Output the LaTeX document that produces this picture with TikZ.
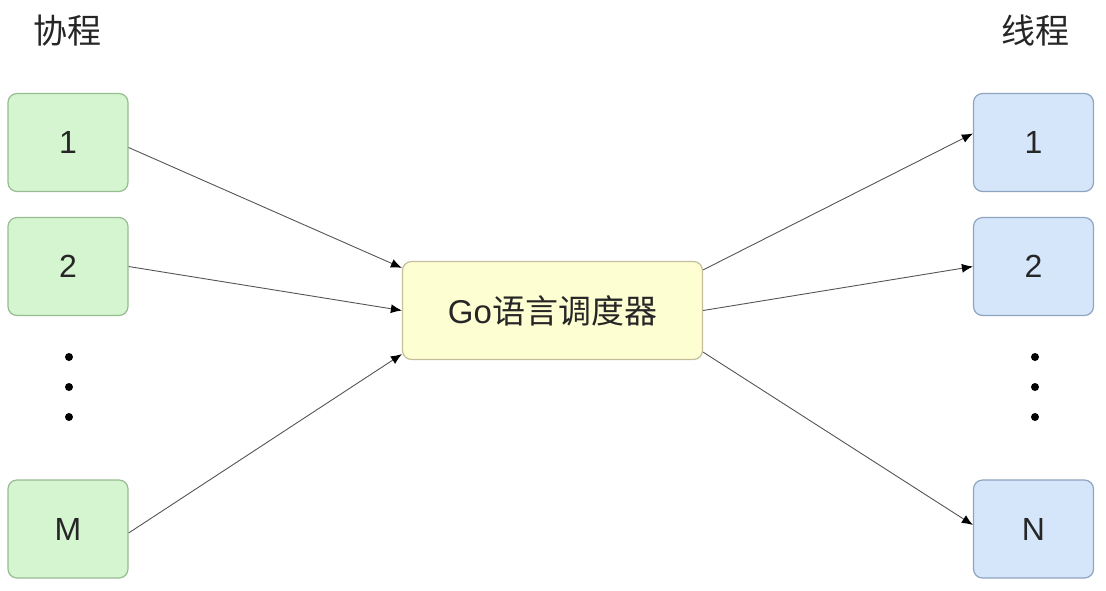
\documentclass[tikz,border=0pt]{standalone}
\usepackage{fontspec}
\setmainfont{Liberation Sans}
\newfontfamily\cjk{Noto Sans CJK SC}
\usetikzlibrary{arrows.meta}
\definecolor{cofill}{HTML}{D5F5D0}
\definecolor{codraw}{HTML}{98BC92}
\definecolor{thfill}{HTML}{D5E6FA}
\definecolor{thdraw}{HTML}{8EA4BF}
\definecolor{scfill}{HTML}{FEFED3}
\definecolor{scdraw}{HTML}{C4BF9A}
\definecolor{linkgray}{HTML}{555555}
\definecolor{txtgray}{HTML}{262626}
\tikzset{
  box/.style={rounded corners=9pt, line width=1.2pt, minimum width=120pt,
    minimum height=98pt, text=txtgray, font=\fontsize{32}{38}\selectfont},
  cobox/.style={box, fill=cofill, draw=codraw},
  thbox/.style={box, fill=thfill, draw=thdraw},
  schedbox/.style={box, fill=scfill, draw=scdraw, minimum width=300pt,
    font=\fontsize{33}{40}\selectfont},
  link/.style={draw=linkgray, line width=0.9pt, -{Latex[length=11pt,width=9pt,black]}},
  title/.style={font=\cjk\fontsize{34}{40}\selectfont, text=black!85},
  vdot/.style={circle, fill=black, inner sep=0pt, minimum size=8pt}
}
\begin{document}
\begin{tikzpicture}[x=1pt,y=-1pt]
    \useasboundingbox (0,0) rectangle (1106,590);
                \node[title] (cotitle) at (68,31) {协程};
                \node[title] (thtitle) at (1035,31) {线程};
                % coroutines
                \node[cobox] (co1) at (68,142.5) {1};
                \node[cobox] (co2) at (68,266.5) {2};
                \node[cobox] (coM) at (68,529) {M};
                \node[vdot] (cod1) at (69,357) {};
                \node[vdot] (cod2) at (69,387) {};
                \node[vdot] (cod3) at (69,417) {};
                % threads
                \node[thbox] (th1) at (1033.5,142.5) {1};
                \node[thbox] (th2) at (1033.5,266.5) {2};
                \node[thbox] (thN) at (1033.5,529) {N};
                \node[vdot] (thd1) at (1035,357) {};
                \node[vdot] (thd2) at (1035,387) {};
                \node[vdot] (thd3) at (1035,417) {};
                % scheduler
                \node[schedbox] (sched) at (552.5,310.5) {Go{\cjk 语言调度器}};
                \coordinate (in1) at ([yshift=-7pt]sched.north west);
                \coordinate (in3) at ([yshift=6pt]sched.south west);
                \coordinate (out1) at ([yshift=-9pt]sched.north east);
                \coordinate (out3) at ([yshift=8pt]sched.south east);
                \coordinate (co1out) at ([yshift=-5pt]co1.east);
                \coordinate (coMout) at ([yshift=-4pt]coM.east);
                \coordinate (th1in) at ([yshift=9pt]th1.west);
                \coordinate (thNin) at ([yshift=4pt]thN.west);
                \draw[link] (co1out) -- (in1);
                \draw[link] (co2.east) -- (sched.west);
                \draw[link] (coMout) -- (in3);
                \draw[link] (out1) -- (th1in);
                \draw[link] (sched.east) -- (th2.west);
                \draw[link] (out3) -- (thNin);
\end{tikzpicture}
\end{document}
